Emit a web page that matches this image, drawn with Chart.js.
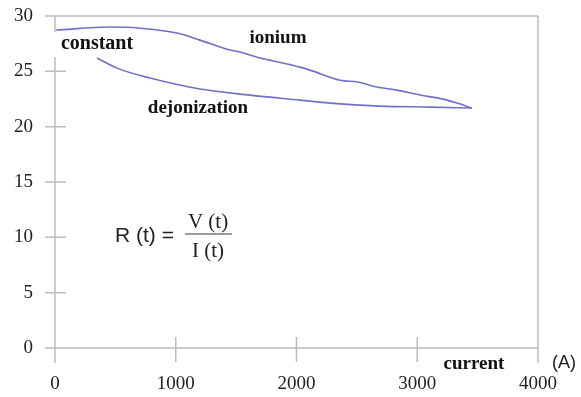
<!DOCTYPE html>
<html>
<head>
<meta charset="utf-8">
<script src="https://cdn.jsdelivr.net/npm/chart.js@4.4.1/dist/chart.umd.min.js"></script>
<style>
html,body{margin:0;padding:0;background:#fff;}
#wrap{width:581px;height:397px;position:relative;}
</style>
</head>
<body>
<div id="wrap"><canvas id="c" width="581" height="397"></canvas></div>
<script>
// Data
const xTicks = [0, 1000, 2000, 3000, 4000];
const yTicks = [0, 5, 10, 15, 20, 25, 30];
const ioniumX = [10, 455, 704, 1010, 1200, 1424, 1532, 1698, 1888, 2029, 2112, 2360, 2509, 2667, 2832, 3023, 3213, 3329, 3453];
const ioniumY = [28.73, 29.0, 28.9, 28.46, 27.82, 27.0, 26.74, 26.2, 25.75, 25.38, 25.11, 24.2, 24.03, 23.58, 23.3, 22.86, 22.49, 22.13, 21.68];
const dejonX = [348, 513, 787, 1201, 1615, 2029, 2277, 2691, 3106, 3453];
const dejonY = [26.2, 25.29, 24.39, 23.4, 22.85, 22.4, 22.13, 21.86, 21.77, 21.68];

const lineColor = '#7070c8';
const frameColor = '#bcbcbc';
const serif = "'Liberation Serif', 'DejaVu Serif', serif";
const sans = "'Liberation Sans', Arial, sans-serif";

const pts = (xs, ys) => xs.map((x, i) => ({x: x, y: ys[i]}));

const framePlugin = {
  id: 'frame',
  beforeDatasetsDraw(chart) {
    const {ctx, chartArea: a, scales: {x, y}} = chart;
    ctx.save();
    ctx.strokeStyle = frameColor;
    ctx.lineWidth = 1.5;
    ctx.beginPath();
    ctx.moveTo(a.left, a.top); ctx.lineTo(a.left, a.bottom + 15);
    ctx.moveTo(a.right, a.top); ctx.lineTo(a.right, a.bottom + 15);
    ctx.moveTo(a.left - 10, a.top); ctx.lineTo(a.right, a.top);
    ctx.moveTo(a.left - 10, a.bottom); ctx.lineTo(a.right, a.bottom);
    yTicks.slice(1, -1).forEach(v => {
      const py = y.getPixelForValue(v);
      ctx.moveTo(a.left - 10, py); ctx.lineTo(a.left + 11, py);
    });
    xTicks.slice(1, -1).forEach(v => {
      const px = x.getPixelForValue(v);
      ctx.moveTo(px, a.bottom - 11); ctx.lineTo(px, a.bottom + 14);
    });
    ctx.stroke();
    ctx.restore();
  },
  afterDatasetsDraw(chart) {
    const {ctx} = chart;
    ctx.save();
    ctx.fillStyle = '#fff';
    ctx.fillRect(53, 32, 88, 25);
    ctx.fillStyle = '#111';
    ctx.textBaseline = 'alphabetic';
    ctx.textAlign = 'center';
    ctx.font = 'bold 20px ' + serif;
    ctx.fillText('constant', 97, 49);
    ctx.font = 'bold 19px ' + serif;
    ctx.fillText('ionium', 278, 43);
    ctx.fillText('dejonization', 198, 113);
    ctx.fillText('current', 474, 369);
    ctx.font = '18px ' + sans;
    ctx.fillStyle = '#222';
    ctx.fillText('(A)', 564, 368);
    ctx.font = '21px ' + sans;
    ctx.textAlign = 'left';
    ctx.fillText('R (t) =', 115, 242);
    ctx.font = '21px ' + serif;
    ctx.textAlign = 'center';
    ctx.fillText('V (t)', 208, 228);
    ctx.fillText('I (t)', 208, 257);
    ctx.strokeStyle = '#777';
    ctx.lineWidth = 1.5;
    ctx.beginPath();
    ctx.moveTo(185, 234); ctx.lineTo(232, 234);
    ctx.stroke();
    ctx.restore();
  }
};

new Chart(document.getElementById('c'), {
  type: 'scatter',
  data: {
    datasets: [
      {label: 'ionium', data: pts(ioniumX, ioniumY), showLine: true, borderColor: lineColor, borderWidth: 1.6, pointRadius: 0, cubicInterpolationMode: 'monotone', fill: false},
      {label: 'dejonization', data: pts(dejonX, dejonY), showLine: true, borderColor: lineColor, borderWidth: 1.6, pointRadius: 0, cubicInterpolationMode: 'monotone', fill: false}
    ]
  },
  options: {
    responsive: false,
    animation: false,
    devicePixelRatio: 1,
    layout: {padding: {top: 16, right: 43, left: 0, bottom: 0}},
    plugins: {legend: {display: false}, tooltip: {enabled: false}},
    scales: {
      x: {
        type: 'linear', min: 0, max: 4000,
        afterBuildTicks: s => { s.ticks = xTicks.map(v => ({value: v})); },
        afterFit: s => { s.height = 49; s.paddingLeft = 0; s.paddingRight = 0; },
        grid: {display: false, drawTicks: false},
        border: {display: false},
        ticks: {color: '#222', padding: 25, maxRotation: 0, font: {family: serif, size: 19}, callback: v => String(v)}
      },
      y: {
        type: 'linear', min: 0, max: 30,
        afterBuildTicks: s => { s.ticks = yTicks.map(v => ({value: v})); },
        afterFit: s => { s.width = 55; s.paddingTop = 0; s.paddingBottom = 0; },
        grid: {display: false, drawTicks: false},
        border: {display: false},
        ticks: {color: '#222', padding: 22, font: {family: serif, size: 19}, callback: v => String(v)}
      }
    }
  },
  plugins: [framePlugin]
});
</script>
</body>
</html>
